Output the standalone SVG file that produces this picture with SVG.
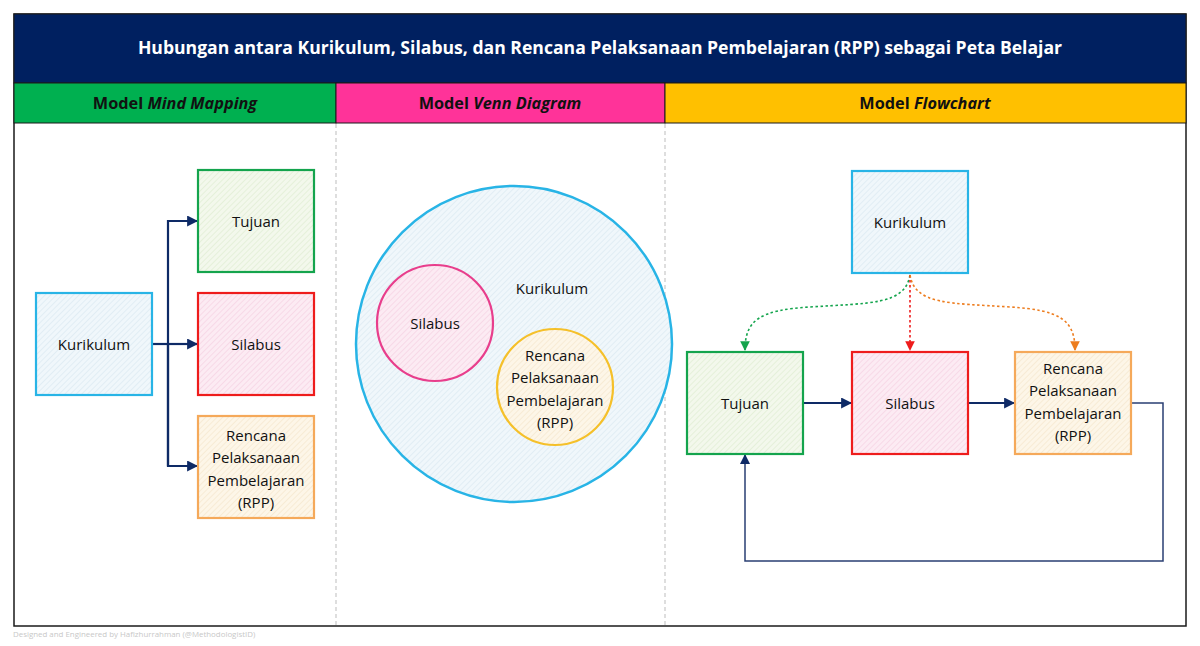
<svg xmlns="http://www.w3.org/2000/svg" width="1200" height="646" viewBox="0 0 1200 646">
<defs>
<style>
text{font-family:"Open Sans","Noto Sans","Liberation Sans",sans-serif;fill:#111;}
.t{font-size:15px;text-anchor:middle;}
.hd{font-size:16.3px;font-weight:bold;text-anchor:middle;fill:#111;}
.box{stroke-width:2.2;}
.conn{fill:none;stroke:#0e2a66;stroke-width:2.2;}
.thin{fill:none;stroke:#2a3f73;stroke-width:1.5;}
.dot{fill:none;stroke-width:1.6;stroke-dasharray:2.5 2.5;}
</style>
<pattern id="pb" width="4" height="4" patternUnits="userSpaceOnUse" patternTransform="rotate(45)"><rect width="4" height="4" fill="#f0f7fb"/><line x1="0" y1="0" x2="0" y2="4" stroke="#d3e4ee" stroke-width="1"/></pattern>
<pattern id="pg" width="4" height="4" patternUnits="userSpaceOnUse" patternTransform="rotate(45)"><rect width="4" height="4" fill="#f3f8ec"/><line x1="0" y1="0" x2="0" y2="4" stroke="#d8e8c8" stroke-width="1"/></pattern>
<pattern id="pr" width="4" height="4" patternUnits="userSpaceOnUse" patternTransform="rotate(45)"><rect width="4" height="4" fill="#fcebf3"/><line x1="0" y1="0" x2="0" y2="4" stroke="#f2c8db" stroke-width="1"/></pattern>
<pattern id="po" width="4" height="4" patternUnits="userSpaceOnUse" patternTransform="rotate(45)"><rect width="4" height="4" fill="#fdf6e8"/><line x1="0" y1="0" x2="0" y2="4" stroke="#f2e1c3" stroke-width="1"/></pattern>
<marker id="ah" viewBox="0 0 10 10" refX="9" refY="5" markerWidth="5" markerHeight="5" orient="auto" markerUnits="strokeWidth"><path d="M0,0 L10,5 L0,10 z" fill="#0e2a66"/></marker>
<marker id="ahThin" viewBox="0 0 10 10" refX="9" refY="5" markerWidth="7" markerHeight="7" orient="auto" markerUnits="strokeWidth"><path d="M0,0 L10,5 L0,10 z" fill="#0e2a66"/></marker>
<marker id="ag" viewBox="0 0 10 10" refX="9" refY="5" markerWidth="6" markerHeight="6" orient="auto" markerUnits="strokeWidth"><path d="M0,0 L10,5 L0,10 z" fill="#14a44d"/></marker>
<marker id="ar" viewBox="0 0 10 10" refX="9" refY="5" markerWidth="6" markerHeight="6" orient="auto" markerUnits="strokeWidth"><path d="M0,0 L10,5 L0,10 z" fill="#ee1c1c"/></marker>
<marker id="ao" viewBox="0 0 10 10" refX="9" refY="5" markerWidth="6" markerHeight="6" orient="auto" markerUnits="strokeWidth"><path d="M0,0 L10,5 L0,10 z" fill="#ed7d1f"/></marker>
</defs>
<rect width="1200" height="646" fill="#ffffff"/>

<g id="frame">
<rect x="14" y="14" width="1172" height="612" fill="#ffffff" stroke="#1a1a1a" stroke-width="1.5"/>
<rect x="14" y="14" width="1172" height="69" fill="#002060" stroke="#1a1a1a" stroke-width="1"/>
<text x="600" y="54" style="font-size:17.6px;font-weight:bold;fill:#ffffff;text-anchor:middle">Hubungan antara Kurikulum, Silabus, dan Rencana Pelaksanaan Pembelajaran (RPP) sebagai Peta Belajar</text>
<rect x="14" y="83" width="322" height="40" fill="#00b050" stroke="#1a1a1a" stroke-width="1"/>
<rect x="336" y="83" width="329" height="40" fill="#ff3399" stroke="#1a1a1a" stroke-width="1"/>
<rect x="665" y="83" width="521" height="40" fill="#ffc000" stroke="#1a1a1a" stroke-width="1"/>
<text class="hd" x="175" y="109">Model <tspan font-style="italic">Mind Mapping</tspan></text>
<text class="hd" x="500" y="109">Model <tspan font-style="italic">Venn Diagram</tspan></text>
<text class="hd" x="925" y="109">Model <tspan font-style="italic">Flowchart</tspan></text>
<line x1="336" y1="124" x2="336" y2="625" stroke="#c8c8c8" stroke-width="1.2" stroke-dasharray="4 3"/>
<line x1="665" y1="124" x2="665" y2="625" stroke="#c8c8c8" stroke-width="1.2" stroke-dasharray="4 3"/>
<text x="13" y="637" style="font-size:7.9px;fill:#c8c8c8">Designed and Engineered by Hafizhurrahman (@MethodologistID)</text>
</g>

<g id="connectors">
<polyline class="conn" points="152,344 168,344"/>
<polyline class="conn" points="168,466 168,221 197,221" marker-end="url(#ah)"/>
<polyline class="conn" points="168,344 197,344" marker-end="url(#ah)"/>
<polyline class="conn" points="168,344 168,466 197,466" marker-end="url(#ah)"/>
<path class="dot" stroke="#14a44d" d="M910,275 C905,305 870,303 810,307 C760,310 745,320 745,350" marker-end="url(#ag)"/>
<path class="dot" stroke="#ee1c1c" d="M910,275 L910,350" marker-end="url(#ar)"/>
<path class="dot" stroke="#ed7d1f" d="M910,275 C915,305 950,303 1010,307 C1060,310 1075,320 1075,350" marker-end="url(#ao)"/>
<line class="conn" x1="803" y1="403" x2="851" y2="403" marker-end="url(#ah)"/>
<line class="conn" x1="968" y1="403" x2="1014" y2="403" marker-end="url(#ah)"/>
<polyline class="thin" points="1131,403 1163,403 1163,561 745,561 745,455" marker-end="url(#ahThin)"/>
</g>

<g id="mm-kurikulum"><rect class="box" x="36" y="293" width="116" height="102" fill="url(#pb)" stroke="#28b4e6"/><text class="t" x="94" y="350">Kurikulum</text></g>
<g id="mm-tujuan"><rect class="box" x="198" y="170" width="116" height="102" fill="url(#pg)" stroke="#14a44d"/><text class="t" x="256" y="227">Tujuan</text></g>
<g id="mm-silabus"><rect class="box" x="198" y="293" width="116" height="102" fill="url(#pr)" stroke="#ee1c1c"/><text class="t" x="256" y="350">Silabus</text></g>
<g id="mm-rpp"><rect class="box" x="198" y="416" width="116" height="102" fill="url(#po)" stroke="#f5a95a"/><text class="t" x="256" y="441">Rencana<tspan x="256" dy="22.3">Pelaksanaan</tspan><tspan x="256" dy="22.3">Pembelajaran</tspan><tspan x="256" dy="22.3">(RPP)</tspan></text></g>

<g id="venn-kurikulum"><circle cx="514" cy="344" r="158" fill="url(#pb)" stroke="#28b4e6" stroke-width="2.5"/><text class="t" x="552" y="294">Kurikulum</text></g>
<g id="venn-silabus"><circle cx="435" cy="323" r="58" fill="url(#pr)" stroke="#e83e8c" stroke-width="2.2"/><text class="t" x="435" y="329">Silabus</text></g>
<g id="venn-rpp"><circle cx="555" cy="387" r="58" fill="url(#po)" stroke="#f5c02a" stroke-width="2.2"/><text class="t" x="555" y="361">Rencana<tspan x="555" dy="22.3">Pelaksanaan</tspan><tspan x="555" dy="22.3">Pembelajaran</tspan><tspan x="555" dy="22.3">(RPP)</tspan></text></g>

<g id="fc-kurikulum"><rect class="box" x="852" y="171" width="116" height="102" fill="url(#pb)" stroke="#28b4e6"/><text class="t" x="910" y="228">Kurikulum</text></g>
<g id="fc-tujuan"><rect class="box" x="687" y="352" width="116" height="102" fill="url(#pg)" stroke="#14a44d"/><text class="t" x="745" y="409">Tujuan</text></g>
<g id="fc-silabus"><rect class="box" x="852" y="352" width="116" height="102" fill="url(#pr)" stroke="#ee1c1c"/><text class="t" x="910" y="409">Silabus</text></g>
<g id="fc-rpp"><rect class="box" x="1015" y="352" width="116" height="102" fill="url(#po)" stroke="#f5a95a"/><text class="t" x="1073" y="374">Rencana<tspan x="1073" dy="22.3">Pelaksanaan</tspan><tspan x="1073" dy="22.3">Pembelajaran</tspan><tspan x="1073" dy="22.3">(RPP)</tspan></text></g>
</svg>
